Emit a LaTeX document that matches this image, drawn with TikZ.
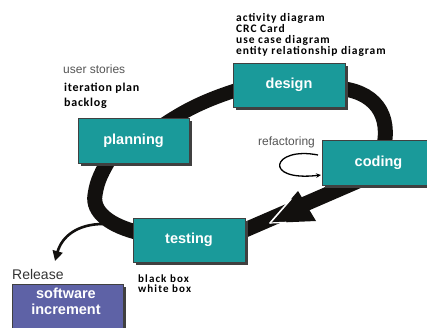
\documentclass[tikz,border=0pt]{standalone}
\usepackage{fontspec}
\usetikzlibrary{arrows.meta,shadows,calc}
\newfontfamily\arialf{Liberation Sans}
\newfontfamily\calb[LetterSpace=8]{Carlito}
\newfontfamily\calbw[LetterSpace=10]{Carlito}
\newfontfamily\calbb[LetterSpace=6]{Carlito}
\definecolor{tealbox}{RGB}{26,154,154}
\definecolor{slatebox}{RGB}{94,98,166}
\definecolor{band}{RGB}{18,16,14}
\definecolor{labelgray}{RGB}{85,85,85}
\tikzset{
  phase/.style={draw=black!75, line width=0.6pt, fill=tealbox, text=white,
    font=\arialf\bfseries\fontsize{14.5}{14.5}\selectfont,
    drop shadow={shadow xshift=3pt, shadow yshift=-3pt, fill=black!75, opacity=1}},
  releasebox/.style={phase, fill=slatebox},
  bandline/.style={draw=band, line cap=butt},
  plain/.style={font=\arialf\fontsize{12}{12}\selectfont, text=labelgray, inner sep=0pt, anchor=base west},
  art/.style={font=\calb\bfseries\fontsize{11.5}{11.5}\selectfont, text=black, inner sep=0pt, anchor=base west},
}
\begin{document}
\begin{tikzpicture}[x=1pt,y=-1pt]
\useasboundingbox (0,0) rectangle (427,328);
\clip (0,0) rectangle (427,328);
% named anchor points of the cycle band
\coordinate (p1) at (160,127);
\coordinate (d1) at (240,89);
\coordinate (d2) at (335,88);
\coordinate (c1) at (383,150);
\coordinate (c2) at (358,181);
\coordinate (t1) at (238,233);
\coordinate (t2) at (140,233);
\coordinate (p2) at (110,158);
\coordinate (rs) at (103,224);
\coordinate (re) at (55,261);
% band
\draw[bandline, line width=14pt] (p1) .. controls (185,110) and (205,100) .. (d1);
\draw[bandline, line width=15pt] (d2) .. controls (375,90) and (392,115) .. (c1);
\draw[bandline, line width=15pt] (c2) -- (t1);
\draw[bandline, line width=15pt] (t2) .. controls (110,226) and (92,212) .. (95,195) .. controls (97,180) and (103,170) .. (p2);
% release arrow
\draw[draw=band, line width=2.6pt, -{Triangle[length=10pt,width=10pt]}] (rs) .. controls (78,224) and (62,236) .. (re);
% big arrowhead coding -> testing
\coordinate (ah1) at (298,191);
\coordinate (ah2) at (316,221);
\coordinate (ah3) at (270,223);
\fill[band] (ah1) -- (ah2) -- (ah3) -- cycle;
\draw[white, line width=1.6pt, line cap=round] (ah3) -- ($(ah3)!0.75!(ah1)$);
\draw[white, line width=1.2pt, line cap=round] (ah3) -- ($(ah3)!0.35!(ah2)$);
% boxes
\node[phase, minimum width=111pt, minimum height=45pt] (planning) at (133.5,140.5) {planning};
\node[phase, minimum width=112pt, minimum height=44pt] (design) at (289,85) {design};
\node[phase, minimum width=113pt, minimum height=45pt, text depth=2pt] (coding) at (378.5,162.5) {coding};
\node[phase, minimum width=112pt, minimum height=44pt] (testing) at (189,240) {testing};
\node[releasebox, minimum width=111pt, minimum height=52pt] (incr) at (67.5,310) {};
\node[font=\arialf\bfseries\fontsize{14.5}{16}\selectfont, text=white, align=center, inner sep=0pt] (incrtext) at (66,301) {software\\increment};
% refactoring loop
\coordinate (rf1) at (318,155);
\coordinate (rf2) at (321,175);
\draw[line width=1.3pt, -{Stealth[length=5pt,width=4.5pt]}] (rf1) .. controls (272,146) and (262,182) .. (rf2);
% labels
\node[plain] (userstories) at (63,74) {user stories};
\node[art, font=\calbb\bfseries\fontsize{12}{12}\selectfont] (iterplan) at (64,92) {iteration plan};
\node[art, font=\calbb\bfseries\fontsize{12}{12}\selectfont] (backlog) at (64,107) {backlog};
\node[art] (act) at (236,22) {activity diagram};
\node[art] (crc) at (236,33) {CRC Card};
\node[art] (usecase) at (236,44) {use case diagram};
\node[art] (erd) at (236,55) {entity relationship diagram};
\node[plain] (refact) at (258,146) {refactoring};
\node[plain, font=\arialf\fontsize{14}{14}\selectfont, text=black!80] (release) at (12,279) {Release};
\node[art, font=\calbw\bfseries\fontsize{11}{11}\selectfont] (bb) at (138,282) {black box};
\node[art, font=\calbw\bfseries\fontsize{11}{11}\selectfont] (wb) at (138,292) {white box};
\end{tikzpicture}
\end{document}
